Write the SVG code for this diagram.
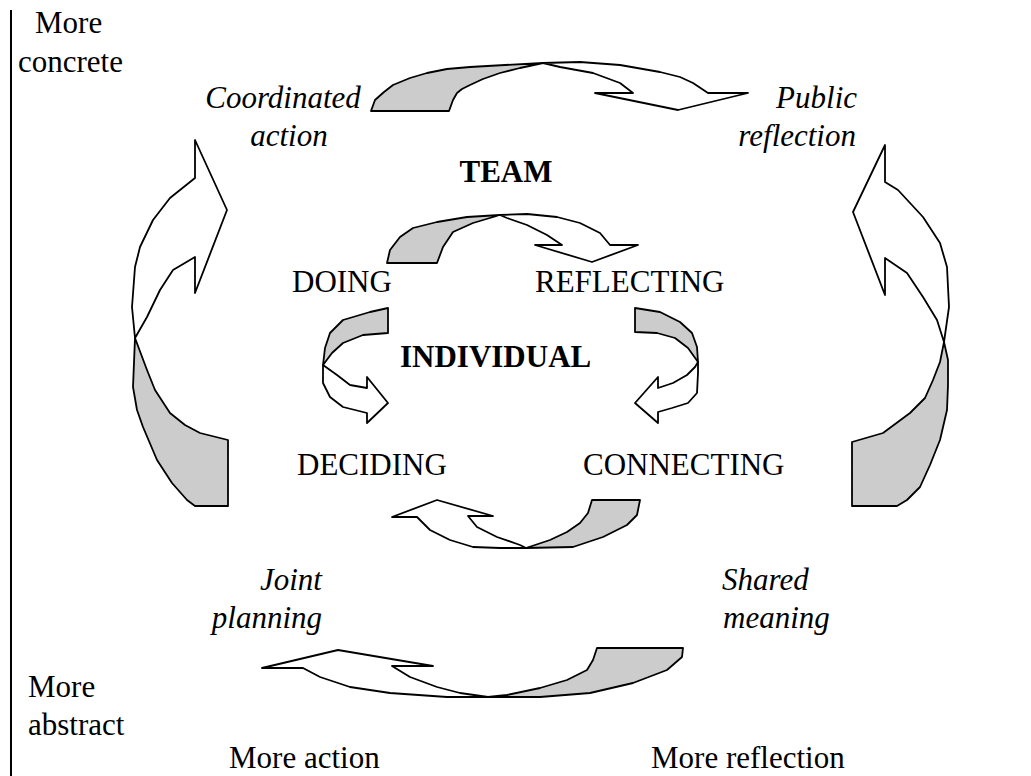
<svg xmlns="http://www.w3.org/2000/svg" width="1031" height="776" viewBox="0 0 1031 776">
  <style>
    text { font-family: "Liberation Serif", Tinos, "Times New Roman", Times, "DejaVu Serif", serif; font-size: 31px; fill: #000; }
    .it { font-style: italic; }
    .bd { font-weight: bold; }
    .back { fill: #cccccc; stroke: #000; stroke-width: 1.8; stroke-linejoin: round; }
    .front { fill: #fff; stroke: #000; stroke-width: 1.8; stroke-linejoin: round; }
  </style>
  <rect width="1031" height="776" fill="#fff"/>

  <!-- vertical axis on the left -->
  <line id="axis" x1="11" y1="10" x2="11" y2="776" stroke="#000" stroke-width="2"/>

  <!-- twisted ribbon arrows -->
  <g id="connectors">
    <!-- outer cycle: team -->
    <g id="arrow-team-top">
      <polygon class="back" points="371,111 375,100 384,92 393,85 410,78 427,73 447,69 470,67 505,65 543,63 520,68 500,73 483,79 470,85 462,89 457,93 453,100 449,111"/>
      <polygon class="front" points="543,63 580,62 620,65 660,72 680,77 693,83 708,93 748,93 678,110 595,93 633,93 620,83 593,73 560,67"/>
    </g>
    <g id="arrow-team-right">
      <polygon class="back" points="944,342 948,360 948,385 947,410 940,440 930,465 920,487 907,500 897,506 852,506 852,442 883,433 910,413 925,398 933,380 940,362"/>
      <polygon class="front" points="944,342 937,320 923,297 907,273 885,258 885,295 853,212 885,145 885,182 898,190 923,217 940,243 947,267 949,307"/>
    </g>
    <g id="arrow-team-bottom">
      <polygon class="back" points="597,648 683,648 682,657 667,670 633,683 590,693 540,697 488,697 507,695 540,688 567,680 587,670 593,660"/>
      <polygon class="front" points="488,697 447,697 390,693 350,687 320,677 303,668 262,668 338,650 433,666 392,666 410,677 437,687 460,693"/>
    </g>
    <g id="arrow-team-left">
      <polygon class="back" points="135,338 133,387 137,410 143,427 157,460 172,483 187,500 195,506 228,506 228,440 200,433 185,425 170,413 155,390 147,370"/>
      <polygon class="front" points="135,338 147,317 160,290 173,270 195,257 195,293 227,210 195,140 195,178 170,198 153,220 140,247 135,267 132,307"/>
    </g>

    <!-- inner cycle: individual -->
    <g id="arrow-ind-top">
      <polygon class="back" points="387,263 390,250 400,237 413,228 437,222 467,217 500,215 473,223 453,232 443,247 437,263"/>
      <polygon class="front" points="500,215 527,214 557,217 580,223 600,233 610,245 638,245 592,262 535,245 562,245 547,235 527,225 507,218"/>
    </g>
    <g id="arrow-ind-right">
      <polygon class="back" points="635,308 660,312 680,322 692,333 697,347 698,362 688,348 675,338 657,333 635,332"/>
      <polygon class="front" points="698,362 698,373 697,393 688,403 672,408 658,412 658,423 635,403 658,377 658,388 673,383 687,375 695,367"/>
    </g>
    <g id="arrow-ind-bottom">
      <polygon class="back" points="592,500 640,500 637,515 627,525 603,537 573,547 526,548 550,540 567,532 580,523 588,513"/>
      <polygon class="front" points="526,548 500,548 473,547 450,540 430,530 420,520 417,517 392,517 437,500 493,516 468,516 477,527 497,537 520,545"/>
    </g>
    <g id="arrow-ind-left">
      <polygon class="back" points="388,308 370,312 343,320 330,333 325,348 323,365 332,353 343,343 363,335 388,333"/>
      <polygon class="front" points="323,365 323,383 330,397 343,407 367,413 367,423 388,403 367,377 367,388 350,385 337,375"/>
    </g>
  </g>

  <!-- axis labels -->
  <g id="more-concrete"><text x="35" y="33">More</text><text x="18" y="72">concrete</text></g>
  <g id="more-abstract"><text x="28" y="697">More</text><text x="28" y="735">abstract</text></g>
  <g id="more-action"><text x="229" y="768">More action</text></g>
  <g id="more-reflection"><text x="651" y="768">More reflection</text></g>

  <!-- team stages -->
  <g id="coordinated-action"><text class="it" x="283" y="108" text-anchor="middle">Coordinated</text><text class="it" x="289" y="146" text-anchor="middle">action</text></g>
  <g id="public-reflection"><text class="it" x="857" y="108" text-anchor="end">Public</text><text class="it" x="856" y="146" text-anchor="end">reflection</text></g>
  <g id="joint-planning"><text class="it" x="322" y="590" text-anchor="end">Joint</text><text class="it" x="322" y="628" text-anchor="end">planning</text></g>
  <g id="shared-meaning"><text class="it" x="722" y="590">Shared</text><text class="it" x="723" y="628">meaning</text></g>
  <g id="team"><text class="bd" x="506" y="182" text-anchor="middle">TEAM</text></g>

  <!-- individual stages -->
  <g id="doing"><text x="292" y="292">DOING</text></g>
  <g id="reflecting"><text x="535" y="292">REFLECTING</text></g>
  <g id="individual"><text class="bd" x="400" y="367">INDIVIDUAL</text></g>
  <g id="deciding"><text x="297" y="475">DECIDING</text></g>
  <g id="connecting"><text x="583" y="475">CONNECTING</text></g>
</svg>
